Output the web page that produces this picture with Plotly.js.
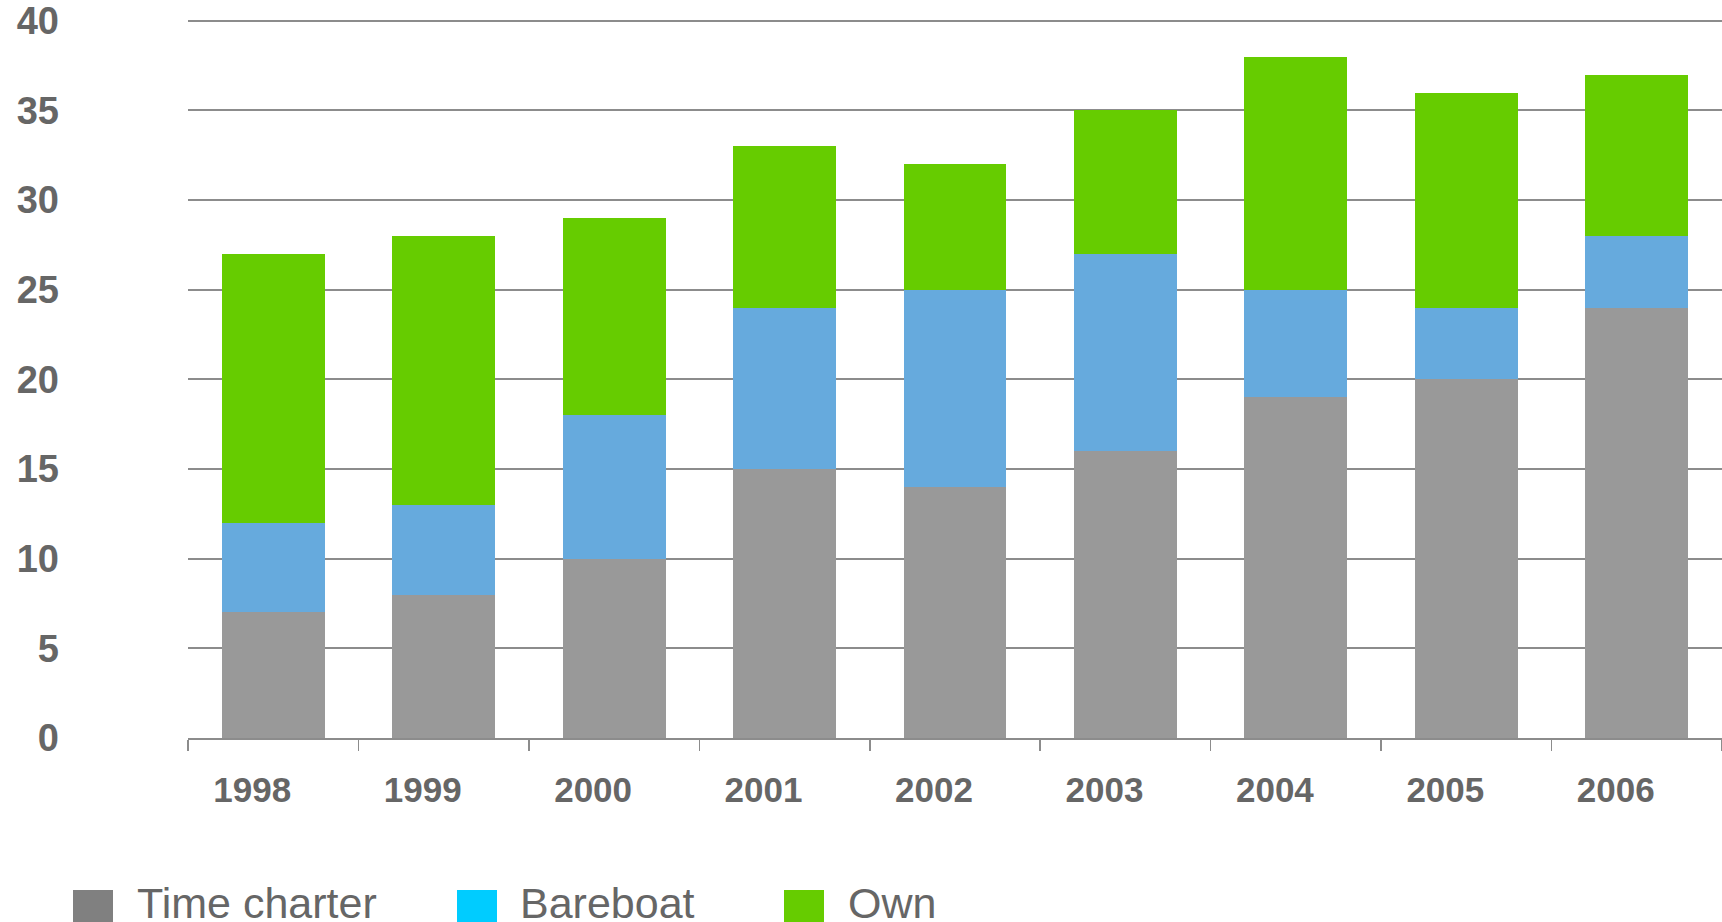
<!DOCTYPE html>
<html>
<head>
<meta charset="utf-8">
<script src="https://cdn.plot.ly/plotly-3.0.1.min.js"></script>
<style>
  html, body { margin: 0; padding: 0; background: #ffffff; }
  #chart { width: 1722px; height: 922px; }
</style>
</head>
<body>
<div id="chart"></div>
<script>
// Fleet composition by year
const years = ['1998', '1999', '2000', '2001', '2002', '2003', '2004', '2005', '2006'];
const timeCharter = [7, 8, 10, 15, 14, 16, 19, 20, 24];
const bareboat = [5, 5, 8, 9, 11, 11, 6, 4, 4];
const own = [15, 15, 11, 9, 7, 8, 13, 12, 9];
const seriesNames = ['Time charter', 'Bareboat', 'Own'];
const yTickVals = [0, 5, 10, 15, 20, 25, 30, 35, 40];
const yTickText = ['0', '5', '10', '15', '20', '25', '30', '35', '40'];

// Styling
const barColors = ['#999999', '#66aadd', '#66cc00'];
const keyColors = ['#808080', '#00ccff', '#66cc00'];
const textGrey = '#666666';
const lineGrey = '#8c8c8c';
const fontFamily = '"Liberation Sans", Arial, Helvetica, sans-serif';

// Value range shown on the y axis; a hair above 40 so the top grid line is drawn
const yMax = 40.1;
const W = 1722, H = 922;
const M = { l: 188, r: 0, t: 19, b: 184 };
const plotW = W - M.l - M.r;
const plotH = H - M.t - M.b;
const toPaperX = x => (x - M.l) / plotW;
const toPaperY = y => (H - M.b - y) / plotH;

const seriesValues = [timeCharter, bareboat, own];
const traces = seriesValues.map((vals, i) => ({
  type: 'bar',
  name: seriesNames[i],
  x: years,
  y: vals,
  marker: { color: barColors[i], line: { width: 0 } },
  showlegend: false,
  hoverinfo: 'x+y+name'
}));

// Key below the chart: coloured squares with their series names
const keySquareLeft = [73, 457, 784];
const keyTextLeft = [135, 518, 846];
const keyShapes = seriesNames.map((n, i) => ({
  type: 'rect',
  xref: 'paper', yref: 'paper',
  x0: toPaperX(keySquareLeft[i]), x1: toPaperX(keySquareLeft[i] + 40),
  y0: toPaperY(890), y1: toPaperY(932),
  fillcolor: keyColors[i],
  line: { width: 0 },
  layer: 'above'
}));
const keyLabels = seriesNames.map((n, i) => ({
  xref: 'paper', yref: 'paper',
  x: toPaperX(keyTextLeft[i]), y: toPaperY(903),
  xanchor: 'left', yanchor: 'middle',
  text: n,
  showarrow: false,
  font: { family: fontFamily, size: 43, color: textGrey }
}));

const layout = {
  width: W, height: H,
  margin: M,
  paper_bgcolor: '#ffffff',
  plot_bgcolor: '#ffffff',
  barmode: 'stack',
  bargap: 0.396,
  showlegend: false,
  font: { family: fontFamily, color: textGrey },
  xaxis: {
    type: 'category',
    tickson: 'boundaries',
    ticks: 'outside',
    ticklen: 11,
    tickwidth: 1.5,
    tickcolor: lineGrey,
    showline: true,
    linecolor: lineGrey,
    linewidth: 2,
    showgrid: false,
    ticklabelstandoff: 20,
    ticklabelshift: -21,
    tickfont: { family: fontFamily, size: 35, color: textGrey, weight: 'bold' },
    fixedrange: true
  },
  yaxis: {
    range: [0, yMax],
    tickvals: yTickVals,
    ticktext: yTickText,
    showgrid: true,
    gridcolor: lineGrey,
    gridwidth: 2,
    zeroline: false,
    showline: false,
    ticks: '',
    ticklabelstandoff: 128,
    tickfont: { family: fontFamily, size: 38, color: textGrey, weight: 'bold' },
    fixedrange: true
  },
  shapes: keyShapes,
  annotations: keyLabels
};

Plotly.newPlot('chart', traces, layout, { displayModeBar: false, staticPlot: true });
</script>
</body>
</html>
